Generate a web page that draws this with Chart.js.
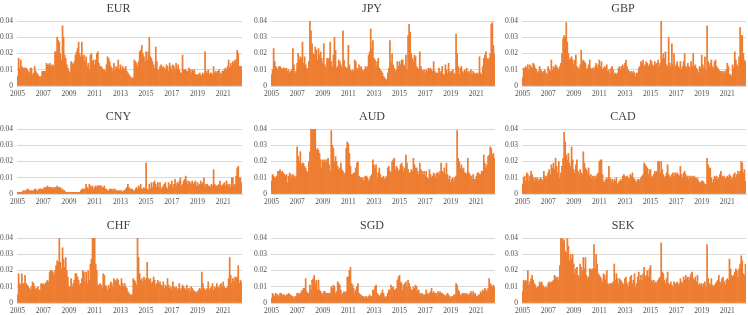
<!DOCTYPE html>
<html>
<head>
<meta charset="utf-8">
<script src="https://cdn.jsdelivr.net/npm/chart.js@4.4.1/dist/chart.umd.min.js"></script>
<style>
  html, body { margin: 0; padding: 0; background: #ffffff; }
  body { width: 748px; height: 315px; position: relative; overflow: hidden; }
  .panel { position: absolute; }
  .panel canvas { display: block; }
</style>
</head>
<body>
<script>
// ---- Data (monthly, Jan 2005 .. Jun 2022) ----
const currencies = ['EUR', 'JPY', 'GBP', 'CNY', 'AUD', 'CAD', 'CHF', 'SGD', 'SEK'];
const yearTicks = ['2005', '2007', '2009', '2011', '2013', '2015', '2017', '2019', '2021'];
const yTicks = [0, 0.01, 0.02, 0.03, 0.04];

const EUR = [
  0.006,0.017,0.011,0.016,0.012,0.011,0.011,0.011,0.011,0.010,0.009,0.008,
  0.011,0.011,0.007,0.008,0.012,0.009,0.008,0.007,0.006,0.005,0.006,0.009,
  0.009,0.009,0.009,0.014,0.013,0.013,0.014,0.013,0.012,0.013,0.012,0.021,
  0.021,0.030,0.028,0.027,0.020,0.016,0.037,0.030,0.019,0.017,0.013,0.011,
  0.009,0.008,0.015,0.014,0.013,0.015,0.019,0.021,0.023,0.027,0.020,0.018,
  0.027,0.018,0.019,0.015,0.018,0.012,0.014,0.010,0.019,0.020,0.015,0.016,
  0.013,0.016,0.020,0.021,0.014,0.012,0.012,0.011,0.010,0.010,0.009,0.013,
  0.018,0.017,0.015,0.012,0.011,0.009,0.014,0.010,0.012,0.011,0.016,0.010,
  0.013,0.010,0.012,0.011,0.010,0.012,0.009,0.008,0.007,0.006,0.005,0.005,
  0.005,0.016,0.015,0.014,0.012,0.015,0.021,0.022,0.025,0.020,0.018,0.015,
  0.021,0.016,0.021,0.030,0.018,0.017,0.015,0.013,0.011,0.024,0.015,0.010,
  0.010,0.012,0.013,0.011,0.012,0.011,0.010,0.013,0.012,0.009,0.014,0.012,
  0.010,0.013,0.012,0.010,0.014,0.011,0.013,0.010,0.008,0.008,0.019,0.010,
  0.010,0.010,0.009,0.009,0.011,0.010,0.008,0.010,0.009,0.010,0.007,0.007,
  0.007,0.007,0.008,0.007,0.006,0.008,0.007,0.021,0.009,0.008,0.010,0.007,
  0.008,0.008,0.007,0.012,0.008,0.009,0.008,0.009,0.010,0.008,0.007,0.009,
  0.009,0.010,0.011,0.010,0.012,0.016,0.011,0.014,0.012,0.015,0.014,0.016,
  0.016,0.022,0.020,0.012,0.012,0.012
];
const JPY = [
  0.007,0.010,0.023,0.015,0.012,0.011,0.010,0.012,0.012,0.011,0.010,0.011,
  0.011,0.010,0.011,0.009,0.010,0.008,0.009,0.010,0.023,0.013,0.008,0.009,
  0.014,0.020,0.016,0.018,0.017,0.027,0.014,0.018,0.013,0.011,0.010,0.015,
  0.040,0.034,0.026,0.020,0.019,0.024,0.022,0.016,0.023,0.019,0.021,0.017,
  0.014,0.026,0.013,0.011,0.017,0.016,0.017,0.027,0.015,0.012,0.019,0.030,
  0.022,0.011,0.012,0.016,0.015,0.013,0.011,0.034,0.016,0.012,0.011,0.011,
  0.025,0.013,0.010,0.009,0.010,0.009,0.016,0.015,0.011,0.010,0.013,0.011,
  0.012,0.010,0.009,0.010,0.012,0.011,0.012,0.019,0.021,0.035,0.023,0.028,
  0.017,0.016,0.012,0.015,0.017,0.011,0.010,0.009,0.008,0.006,0.005,0.004,
  0.004,0.008,0.011,0.028,0.014,0.020,0.013,0.011,0.009,0.010,0.015,0.012,
  0.015,0.013,0.016,0.016,0.013,0.012,0.019,0.010,0.031,0.038,0.033,0.020,
  0.017,0.015,0.019,0.018,0.012,0.011,0.010,0.021,0.012,0.010,0.009,0.010,
  0.008,0.010,0.009,0.011,0.010,0.011,0.010,0.009,0.015,0.009,0.008,0.008,
  0.008,0.011,0.008,0.009,0.012,0.007,0.007,0.013,0.010,0.008,0.014,0.009,
  0.008,0.009,0.010,0.008,0.007,0.032,0.020,0.012,0.007,0.011,0.012,0.009,
  0.008,0.010,0.009,0.011,0.008,0.009,0.008,0.010,0.007,0.009,0.008,0.007,
  0.008,0.007,0.008,0.018,0.008,0.007,0.012,0.017,0.019,0.021,0.017,0.016,
  0.017,0.020,0.038,0.039,0.025,0.020
];
const GBP = [
  0.005,0.011,0.011,0.012,0.011,0.013,0.010,0.013,0.012,0.011,0.014,0.013,
  0.011,0.010,0.008,0.009,0.012,0.010,0.009,0.008,0.009,0.010,0.008,0.007,
  0.012,0.010,0.009,0.016,0.010,0.012,0.011,0.013,0.012,0.011,0.010,0.012,
  0.014,0.020,0.029,0.031,0.030,0.039,0.027,0.020,0.016,0.017,0.018,0.016,
  0.013,0.016,0.019,0.012,0.011,0.010,0.013,0.022,0.015,0.016,0.015,0.014,
  0.010,0.011,0.013,0.016,0.011,0.010,0.011,0.010,0.012,0.014,0.011,0.013,
  0.016,0.012,0.015,0.010,0.011,0.012,0.011,0.013,0.009,0.010,0.008,0.011,
  0.012,0.010,0.007,0.008,0.007,0.008,0.011,0.012,0.010,0.012,0.013,0.011,
  0.014,0.016,0.012,0.010,0.009,0.008,0.009,0.008,0.009,0.008,0.006,0.008,
  0.008,0.011,0.012,0.015,0.014,0.016,0.012,0.013,0.015,0.014,0.012,0.013,
  0.016,0.015,0.013,0.012,0.015,0.013,0.014,0.016,0.012,0.014,0.040,0.017,
  0.020,0.017,0.021,0.013,0.012,0.030,0.014,0.012,0.026,0.013,0.020,0.012,
  0.013,0.015,0.012,0.011,0.015,0.010,0.012,0.015,0.020,0.012,0.011,0.014,
  0.012,0.011,0.015,0.012,0.020,0.012,0.013,0.011,0.010,0.008,0.012,0.011,
  0.019,0.013,0.011,0.018,0.010,0.037,0.015,0.012,0.014,0.016,0.012,0.011,
  0.015,0.016,0.012,0.011,0.010,0.009,0.009,0.008,0.009,0.008,0.009,0.010,
  0.014,0.012,0.007,0.007,0.006,0.013,0.011,0.021,0.016,0.013,0.012,0.018,
  0.036,0.031,0.031,0.020,0.016,0.015
];
const CNY = [
  0.001,0.001,0.001,0.001,0.001,0.002,0.002,0.002,0.002,0.003,0.003,0.002,
  0.002,0.002,0.002,0.002,0.003,0.003,0.002,0.002,0.003,0.003,0.003,0.003,
  0.003,0.004,0.004,0.004,0.005,0.004,0.004,0.004,0.004,0.003,0.004,0.004,
  0.004,0.005,0.004,0.004,0.004,0.003,0.003,0.002,0.002,0.001,0.001,0.001,
  0.001,0.001,0.001,0.001,0.001,0.001,0.001,0.001,0.001,0.001,0.001,0.002,
  0.003,0.003,0.003,0.003,0.006,0.004,0.003,0.006,0.005,0.004,0.005,0.003,
  0.004,0.005,0.004,0.005,0.005,0.005,0.005,0.004,0.004,0.005,0.003,0.003,
  0.002,0.002,0.003,0.003,0.003,0.002,0.003,0.003,0.002,0.002,0.002,0.002,
  0.002,0.002,0.001,0.002,0.002,0.003,0.004,0.006,0.004,0.003,0.003,0.003,
  0.002,0.002,0.003,0.004,0.003,0.005,0.004,0.006,0.003,0.003,0.004,0.003,
  0.019,0.003,0.002,0.006,0.003,0.007,0.004,0.007,0.008,0.006,0.004,0.007,
  0.004,0.007,0.003,0.004,0.005,0.006,0.007,0.004,0.003,0.007,0.005,0.006,
  0.008,0.004,0.006,0.009,0.005,0.007,0.006,0.008,0.010,0.005,0.006,0.008,
  0.009,0.011,0.008,0.006,0.008,0.007,0.006,0.008,0.006,0.007,0.008,0.005,
  0.007,0.005,0.006,0.008,0.006,0.007,0.010,0.005,0.006,0.006,0.005,0.005,
  0.004,0.006,0.005,0.015,0.006,0.005,0.005,0.005,0.006,0.008,0.005,0.005,
  0.006,0.007,0.005,0.008,0.006,0.005,0.006,0.004,0.010,0.010,0.005,0.006,
  0.011,0.016,0.017,0.010,0.010,0.007
];
const AUD = [
  0.008,0.012,0.011,0.010,0.010,0.011,0.014,0.014,0.015,0.013,0.014,0.013,
  0.012,0.011,0.012,0.007,0.011,0.013,0.012,0.010,0.012,0.011,0.010,0.011,
  0.029,0.023,0.020,0.026,0.018,0.019,0.019,0.017,0.016,0.014,0.013,0.020,
  0.026,0.045,0.048,0.046,0.050,0.045,0.027,0.028,0.027,0.025,0.021,0.016,
  0.021,0.020,0.021,0.019,0.021,0.022,0.018,0.014,0.039,0.030,0.028,0.020,
  0.023,0.020,0.017,0.015,0.016,0.019,0.015,0.014,0.012,0.013,0.028,0.032,
  0.031,0.025,0.017,0.012,0.012,0.013,0.013,0.016,0.019,0.020,0.011,0.010,
  0.010,0.010,0.008,0.010,0.011,0.011,0.010,0.008,0.009,0.011,0.012,0.021,
  0.018,0.016,0.018,0.010,0.013,0.016,0.012,0.010,0.010,0.011,0.009,0.010,
  0.011,0.016,0.017,0.014,0.013,0.020,0.021,0.022,0.015,0.017,0.016,0.014,
  0.015,0.018,0.019,0.017,0.014,0.016,0.024,0.019,0.015,0.013,0.013,0.015,
  0.014,0.022,0.018,0.016,0.016,0.014,0.012,0.019,0.015,0.014,0.012,0.014,
  0.011,0.014,0.010,0.009,0.015,0.012,0.010,0.011,0.013,0.012,0.010,0.013,
  0.013,0.012,0.014,0.019,0.014,0.013,0.016,0.012,0.019,0.012,0.009,0.011,
  0.007,0.009,0.010,0.008,0.010,0.011,0.039,0.022,0.020,0.016,0.018,0.015,
  0.016,0.013,0.013,0.012,0.022,0.013,0.012,0.011,0.009,0.012,0.009,0.009,
  0.011,0.013,0.013,0.012,0.012,0.014,0.014,0.024,0.019,0.016,0.018,0.023,
  0.024,0.029,0.028,0.024,0.025,0.022
];
const CAD = [
  0.006,0.010,0.011,0.008,0.013,0.012,0.008,0.011,0.014,0.012,0.010,0.008,
  0.010,0.009,0.010,0.008,0.009,0.010,0.009,0.008,0.014,0.011,0.010,0.011,
  0.013,0.015,0.012,0.018,0.016,0.019,0.015,0.022,0.017,0.013,0.020,0.010,
  0.013,0.017,0.022,0.038,0.032,0.024,0.021,0.025,0.019,0.017,0.029,0.021,
  0.015,0.013,0.018,0.021,0.014,0.012,0.015,0.013,0.012,0.026,0.019,0.016,
  0.015,0.013,0.016,0.011,0.012,0.010,0.011,0.009,0.011,0.010,0.012,0.013,
  0.020,0.021,0.021,0.012,0.008,0.007,0.009,0.010,0.009,0.017,0.010,0.008,
  0.009,0.007,0.009,0.008,0.010,0.006,0.007,0.008,0.009,0.008,0.011,0.012,
  0.011,0.010,0.011,0.010,0.009,0.012,0.011,0.013,0.010,0.009,0.008,0.007,
  0.009,0.009,0.008,0.010,0.011,0.012,0.019,0.018,0.017,0.016,0.012,0.015,
  0.015,0.011,0.010,0.012,0.014,0.013,0.014,0.020,0.020,0.013,0.020,0.015,
  0.012,0.010,0.011,0.013,0.018,0.012,0.011,0.010,0.012,0.013,0.011,0.013,
  0.012,0.013,0.012,0.011,0.017,0.012,0.010,0.013,0.014,0.012,0.010,0.011,
  0.009,0.011,0.010,0.011,0.010,0.011,0.010,0.009,0.010,0.008,0.007,0.007,
  0.008,0.008,0.007,0.006,0.006,0.022,0.018,0.016,0.016,0.010,0.007,0.009,
  0.011,0.010,0.011,0.009,0.010,0.012,0.014,0.011,0.010,0.011,0.009,0.010,
  0.011,0.010,0.012,0.011,0.009,0.010,0.012,0.013,0.010,0.012,0.014,0.012,
  0.014,0.020,0.019,0.013,0.015,0.008
];
const CHF = [
  0.005,0.018,0.012,0.011,0.018,0.012,0.012,0.017,0.012,0.011,0.010,0.009,
  0.008,0.010,0.013,0.012,0.010,0.008,0.009,0.010,0.008,0.008,0.012,0.011,
  0.012,0.011,0.012,0.013,0.014,0.013,0.019,0.020,0.020,0.019,0.017,0.020,
  0.023,0.026,0.025,0.040,0.025,0.021,0.034,0.027,0.022,0.028,0.020,0.016,
  0.010,0.010,0.015,0.010,0.012,0.014,0.018,0.018,0.016,0.014,0.011,0.012,
  0.015,0.020,0.019,0.013,0.019,0.012,0.020,0.014,0.024,0.027,0.045,0.045,
  0.045,0.024,0.020,0.011,0.011,0.012,0.011,0.009,0.018,0.017,0.011,0.010,
  0.008,0.011,0.009,0.013,0.012,0.010,0.015,0.014,0.013,0.015,0.014,0.011,
  0.010,0.015,0.012,0.010,0.012,0.010,0.009,0.007,0.006,0.005,0.005,0.005,
  0.015,0.014,0.013,0.011,0.045,0.028,0.018,0.014,0.015,0.013,0.016,0.014,
  0.015,0.025,0.015,0.014,0.015,0.012,0.013,0.016,0.014,0.011,0.012,0.014,
  0.012,0.013,0.011,0.010,0.013,0.009,0.011,0.010,0.015,0.011,0.009,0.010,
  0.008,0.013,0.010,0.009,0.010,0.008,0.009,0.012,0.008,0.009,0.011,0.010,
  0.009,0.008,0.011,0.008,0.009,0.007,0.010,0.009,0.008,0.007,0.007,0.006,
  0.007,0.008,0.009,0.008,0.019,0.012,0.009,0.008,0.008,0.009,0.013,0.008,
  0.009,0.010,0.012,0.008,0.010,0.009,0.012,0.010,0.009,0.011,0.012,0.010,
  0.013,0.010,0.009,0.009,0.010,0.015,0.028,0.017,0.012,0.015,0.013,0.016,
  0.015,0.016,0.023,0.012,0.014,0.013
];
const SGD = [
  0.003,0.006,0.005,0.004,0.006,0.005,0.005,0.004,0.006,0.006,0.005,0.005,
  0.005,0.004,0.005,0.005,0.006,0.005,0.005,0.004,0.004,0.003,0.004,0.004,
  0.006,0.006,0.005,0.006,0.007,0.008,0.009,0.009,0.015,0.007,0.006,0.006,
  0.011,0.008,0.014,0.015,0.017,0.012,0.014,0.008,0.014,0.008,0.007,0.006,
  0.005,0.007,0.007,0.006,0.006,0.006,0.006,0.006,0.010,0.009,0.011,0.010,
  0.006,0.007,0.013,0.012,0.011,0.008,0.005,0.006,0.007,0.006,0.007,0.016,
  0.016,0.020,0.022,0.012,0.011,0.009,0.006,0.008,0.010,0.012,0.006,0.005,
  0.005,0.004,0.004,0.003,0.004,0.004,0.003,0.004,0.005,0.004,0.004,0.008,
  0.008,0.010,0.011,0.006,0.005,0.004,0.005,0.006,0.008,0.006,0.004,0.003,
  0.004,0.006,0.008,0.008,0.011,0.009,0.010,0.008,0.008,0.009,0.014,0.016,
  0.017,0.013,0.012,0.008,0.011,0.012,0.013,0.010,0.014,0.012,0.010,0.008,
  0.008,0.010,0.009,0.011,0.010,0.007,0.008,0.006,0.005,0.006,0.005,0.005,
  0.005,0.008,0.006,0.005,0.006,0.007,0.009,0.006,0.007,0.006,0.006,0.005,
  0.007,0.006,0.007,0.006,0.006,0.005,0.005,0.004,0.005,0.006,0.005,0.004,
  0.003,0.004,0.004,0.005,0.005,0.012,0.011,0.008,0.007,0.005,0.005,0.006,
  0.006,0.006,0.005,0.006,0.005,0.005,0.006,0.007,0.005,0.007,0.005,0.006,
  0.004,0.004,0.005,0.005,0.007,0.006,0.008,0.007,0.009,0.008,0.007,0.009,
  0.015,0.012,0.011,0.010,0.011,0.010
];
const SEK = [
  0.007,0.014,0.013,0.014,0.013,0.020,0.011,0.013,0.015,0.017,0.014,0.012,
  0.011,0.009,0.010,0.010,0.013,0.012,0.013,0.011,0.010,0.009,0.010,0.009,
  0.012,0.013,0.012,0.013,0.013,0.014,0.017,0.016,0.015,0.016,0.014,0.023,
  0.040,0.045,0.038,0.039,0.032,0.031,0.045,0.035,0.026,0.030,0.027,0.030,
  0.024,0.018,0.021,0.022,0.017,0.016,0.024,0.022,0.020,0.028,0.021,0.028,
  0.017,0.015,0.016,0.021,0.021,0.020,0.021,0.036,0.021,0.030,0.024,0.018,
  0.017,0.016,0.015,0.013,0.018,0.017,0.014,0.020,0.012,0.011,0.012,0.012,
  0.012,0.013,0.024,0.014,0.018,0.015,0.012,0.015,0.014,0.013,0.012,0.011,
  0.015,0.016,0.012,0.010,0.013,0.016,0.017,0.012,0.014,0.018,0.010,0.012,
  0.016,0.019,0.014,0.017,0.014,0.018,0.022,0.016,0.017,0.020,0.016,0.021,
  0.023,0.014,0.013,0.014,0.012,0.013,0.012,0.014,0.015,0.016,0.037,0.019,
  0.018,0.014,0.012,0.015,0.019,0.012,0.011,0.013,0.011,0.010,0.013,0.012,
  0.012,0.013,0.011,0.012,0.015,0.013,0.012,0.016,0.014,0.017,0.015,0.016,
  0.014,0.016,0.018,0.019,0.015,0.014,0.016,0.013,0.017,0.011,0.012,0.011,
  0.012,0.010,0.012,0.013,0.010,0.036,0.015,0.012,0.011,0.015,0.011,0.010,
  0.011,0.012,0.013,0.014,0.017,0.013,0.012,0.015,0.016,0.013,0.011,0.014,
  0.015,0.014,0.027,0.021,0.017,0.016,0.017,0.019,0.021,0.020,0.016,0.021,
  0.024,0.029,0.026,0.018,0.017,0.024
];
const seriesByName = { EUR, JPY, GBP, CNY, AUD, CAD, CHF, SGD, SEK };

// Monthly category labels (Jan 2005 .. Jun 2022)
const monthLabels = [];
for (let y = 2005; y <= 2022; y++) {
  for (let m = 1; m <= 12; m++) {
    if (monthLabels.length < EUR.length) monthLabels.push(y + '-' + m);
  }
}

// ---- Layout (pixel geometry of each panel's plot area) ----
const colPlot = [ [17, 242], [271, 495], [522, 746] ];
const rowPlot = [ [21, 86], [129, 194], [238, 303] ];
const Y_AXIS_W = 22, X_AXIS_H = 14, RIGHT_PAD = 3;
const TITLE_FONT = 12, TITLE_PAD_TOP = 8, TITLE_PAD_BOTTOM = 5;
const TITLE_H = Math.round(TITLE_PAD_TOP + TITLE_FONT * 1.2 + TITLE_PAD_BOTTOM);

const ORANGE = '#ED7D31';
const GRID = '#D9D9D9';
const TEXT = '#505050';
const TITLE_COLOR = '#404040';
const FONT = "'Liberation Serif', 'Times New Roman', serif";

currencies.forEach((name, i) => {
  const r = Math.floor(i / 3), c = i % 3;
  const [pl, pr] = colPlot[c];
  const [pt, pb] = rowPlot[r];
  const left = pl - Y_AXIS_W;
  const top = pt - TITLE_H;
  const width = (pr - pl) + Y_AXIS_W + RIGHT_PAD;
  const height = TITLE_H + (pb - pt) + X_AXIS_H;
  const padTop = TITLE_H - (TITLE_PAD_TOP + TITLE_FONT * 1.2 + TITLE_PAD_BOTTOM);

  const div = document.createElement('div');
  div.className = 'panel';
  div.style.left = left + 'px';
  div.style.top = top + 'px';
  div.style.width = width + 'px';
  div.style.height = height + 'px';
  const cv = document.createElement('canvas');
  div.appendChild(cv);
  document.body.appendChild(div);

  new Chart(cv, {
    type: 'bar',
    data: {
      labels: monthLabels,
      datasets: [{
        label: name,
        data: seriesByName[name],
        backgroundColor: ORANGE,
        borderWidth: 0,
        barPercentage: 1,
        categoryPercentage: 1
      }]
    },
    options: {
      responsive: true,
      maintainAspectRatio: false,
      animation: false,
      events: [],
      layout: { padding: { left: 0, right: RIGHT_PAD, top: padTop, bottom: 0 } },
      plugins: {
        legend: { display: false },
        tooltip: { enabled: false },
        title: {
          display: true,
          text: name,
          color: TITLE_COLOR,
          font: { family: FONT, size: TITLE_FONT, weight: 'normal' },
          padding: { top: TITLE_PAD_TOP, bottom: TITLE_PAD_BOTTOM }
        }
      },
      scales: {
        x: {
          type: 'category',
          grid: { display: false, drawTicks: false },
          border: { display: true, color: GRID, width: 1 },
          ticks: {
            autoSkip: false,
            maxRotation: 0,
            minRotation: 0,
            padding: 4,
            color: TEXT,
            font: { family: FONT, size: 7.5 },
            callback: function (value, index) {
              const lab = monthLabels[index];
              const parts = lab.split('-');
              return (parts[1] === '1' && yearTicks.includes(parts[0])) ? parts[0] : null;
            }
          },
          afterFit: s => { s.height = X_AXIS_H; }
        },
        y: {
          min: yTicks[0],
          max: yTicks[yTicks.length - 1],
          grid: { color: GRID, lineWidth: 1, drawTicks: false },
          border: { display: false },
          afterBuildTicks: s => { s.ticks = yTicks.map(v => ({ value: v })); },
          ticks: {
            padding: 4,
            color: TEXT,
            font: { family: FONT, size: 7.5 },
            callback: v => (v === 0 ? '0' : v.toFixed(2))
          },
          afterFit: s => { s.width = Y_AXIS_W; }
        }
      }
    }
  });
});
</script>
</body>
</html>
